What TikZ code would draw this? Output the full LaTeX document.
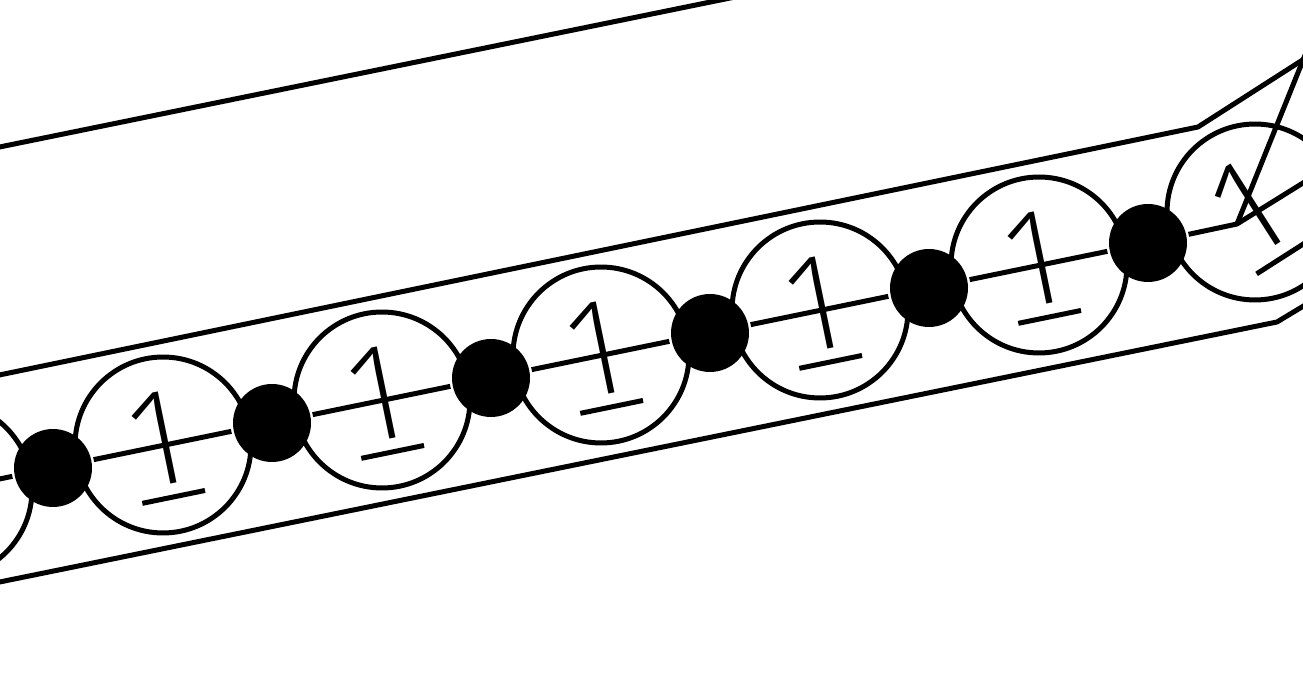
\documentclass[tikz,border=0pt]{standalone}
\usepackage{fontspec}
\newfontfamily\onefont{Open Sans Light}
\usetikzlibrary{positioning}

\tikzset{
  ring/.style = {draw, circle, line width=0.1cm, minimum size=3.52cm, inner sep=0pt},
  blob/.style = {fill, circle, minimum size=1.56cm, inner sep=0pt},
  digit/.style = {inner sep=0pt, transform shape, font=\onefont\fontsize{74}{74}\selectfont},
}

\begin{document}
\begin{tikzpicture}[x=0.02cm, y=-0.02cm, line width=0.1cm, line join=round]
		\useasboundingbox (0,0) rectangle (1303,685);
		\clip (0,0) rectangle (1303,685);
		\draw (-20,151) -- (740,-4);
		\draw (-20,379) -- (1198,127) -- (1340,36);
		\draw (-20,586) -- (1277,322) -- (1340,284);
		\coordinate (lft) at (-166,513);
		\coordinate (bend) at (1237,224);
		\coordinate (tip) at (1320,18);
		\coordinate (out) at (1340,160);
		\foreach \i in {0,...,5}
			\node [blob] (d\i) at (53+219*\i,468-45*\i) {};
		\draw (lft) -- (d0) -- (d1) -- (d2) -- (d3) -- (d4) -- (d5) -- (bend) -- (out);
		\draw (bend) -- (tip);
		\foreach \i in {0,...,5} {
			\begin{scope}[shift={(-56+219*\i,490-45*\i)}, rotate=11.6]
				\node [ring] (r\i) at (0,0) {};
				\node [digit] (n\i) at (0,-7) {1};
				\draw (-32,53) -- (32,53);
			\end{scope}
		}
		\begin{scope}[shift={(1255,212)}, rotate=32.6]
			\node [ring] (r6) at (0,0) {};
			\node [digit] (n6) at (0,-7) {1};
			\draw (-32,53) -- (32,53);
		\end{scope}
	\end{tikzpicture}
\end{document}
